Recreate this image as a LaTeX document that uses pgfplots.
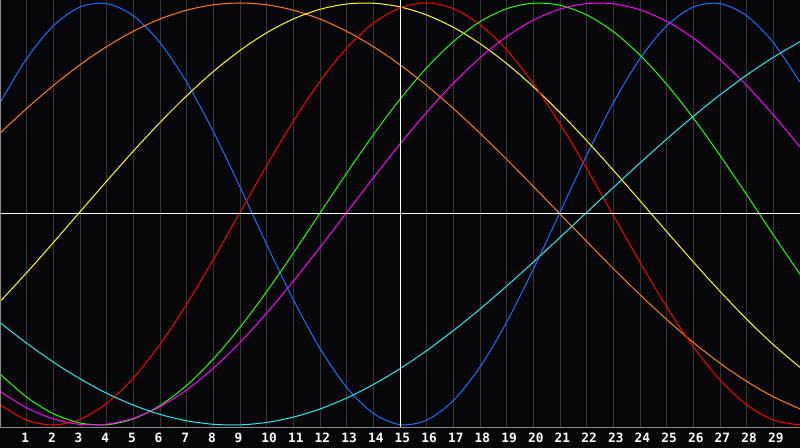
\documentclass[border=0pt]{standalone}
\usepackage{pgfplots}
\pgfplotsset{compat=1.18}
\usepackage{fontspec}
\setmonofont{DejaVu Sans Mono}
\definecolor{bg}{HTML}{060609}
\definecolor{gridgray}{HTML}{36363A}
\definecolor{framegray}{HTML}{8A8A8A}
\definecolor{cblue}{HTML}{1E6EFF}
\definecolor{corange}{HTML}{FF7F1A}
\definecolor{cyellow}{HTML}{FFFF00}
\definecolor{cred}{HTML}{FF0000}
\definecolor{cgreen}{HTML}{22FF00}
\definecolor{cmagenta}{HTML}{FF00FF}
\definecolor{ccyan}{HTML}{22EEEE}
\begin{document}
\begin{tikzpicture}
\fill[bg] (0,0) rectangle (600pt,336pt);
\begin{axis}[
  at={(0pt,15pt)}, anchor=south west,
  width=600pt, height=321pt, scale only axis,
  xmin=0, xmax=30, ymin=-1.0142, ymax=1.0142,
  axis line style={draw=none},
  xtick={1,...,29}, ytick=\empty,
  /pgf/number format/assume math mode=true,
  major tick length=0pt,
  xmajorgrids, grid style={gridgray, line width=0.75pt},
  xticklabel style={anchor=north west, xshift=-7.5pt, yshift=-0.5pt,
    text=white, font=\ttfamily\bfseries\fontsize{9.6}{10}\selectfont},
  every axis plot/.style={line width=0.75pt, smooth, no marks},
  clip=true,
]
% physical 23
\addplot[cblue] coordinates {
(0,0.5266)(1,0.7364)(2,0.8917)(3,0.9807)(4,0.9971)(5,0.9395)(6,0.8122)(7,0.6246)
(8,0.3907)(9,0.1279)(10,-0.1444)(11,-0.4059)(12,-0.6374)(13,-0.8216)(14,-0.9450)
(15,-0.9982)(16,-0.9774)(17,-0.8841)(18,-0.7251)(19,-0.5125)(20,-0.2618)(21,0.0082)
(22,0.2777)(23,0.5266)(24,0.7364)(25,0.8917)(26,0.9807)(27,0.9971)(28,0.9395)
(29,0.8122)(30,0.6246)};
% 48
\addplot[corange] coordinates {
(0,0.3827)(1,0.5)(2,0.6088)(3,0.7071)(4,0.7934)(5,0.8660)(6,0.9239)(7,0.9659)
(8,0.9914)(9,1)(10,0.9914)(11,0.9659)(12,0.9239)(13,0.8660)(14,0.7934)(15,0.7071)
(16,0.6088)(17,0.5)(18,0.3827)(19,0.2588)(20,0.1305)(21,0)(22,-0.1305)(23,-0.2588)
(24,-0.3827)(25,-0.5)(26,-0.6088)(27,-0.7071)(28,-0.7934)(29,-0.8660)(30,-0.9239)};
% 43
\addplot[cyellow] coordinates {
(0,-0.4152)(1,-0.2783)(2,-0.1355)(3,0.0103)(4,0.1557)(5,0.2979)(6,0.4337)(7,0.5602)
(8,0.6749)(9,0.7750)(10,0.8590)(11,0.9243)(12,0.9700)(13,0.9951)(14,0.9989)
(15,0.9815)(16,0.9431)(17,0.8847)(18,0.8073)(19,0.7128)(20,0.6032)(21,0.4805)
(22,0.3477)(23,0.2074)(24,0.0628)(25,-0.0832)(26,-0.2273)(27,-0.3667)(28,-0.4983)
(29,-0.6193)(30,-0.7269)};
% emotional 28
\addplot[cred] coordinates {
(0,-0.9038)(1,-0.9764)(2,-1.0000)(3,-0.9734)(4,-0.8980)(5,-0.7777)(6,-0.6183)
(7,-0.4278)(8,-0.2159)(9,0.0066)(10,0.2290)(11,0.4399)(12,0.6287)(13,0.7860)
(14,0.9038)(15,0.9764)(16,1.0000)(17,0.9734)(18,0.8980)(19,0.7777)(20,0.6183)
(21,0.4278)(22,0.2161)(23,-0.0066)(24,-0.2290)(25,-0.4399)(26,-0.6287)(27,-0.7860)
(28,-0.9038)(29,-0.9764)(30,-1.0000)};
% intellectual 33
\addplot[cgreen] coordinates {
(0,-0.7580)(1,-0.8679)(2,-0.9463)(3,-0.9904)(4,-0.9987)(5,-0.9709)(6,-0.9081)
(7,-0.8124)(8,-0.6873)(9,-0.5374)(10,-0.3681)(11,-0.1855)(12,0.0038)(13,0.1930)
(14,0.3752)(15,0.5439)(16,0.6928)(17,0.8168)(18,0.9112)(19,0.9727)(20,0.9990)
(21,0.9893)(22,0.9437)(23,0.8642)(24,0.7530)(25,0.6151)(26,0.4548)(27,0.2780)
(28,0.0913)(29,-0.0988)(30,-0.2853)};
% 38
\addplot[cmagenta] coordinates {
(0,-0.8408)(1,-0.9184)(2,-0.9710)(3,-0.9971)(4,-0.9960)(5,-0.9678)(6,-0.9132)
(7,-0.8336)(8,-0.7313)(9,-0.6089)(10,-0.4701)(11,-0.3184)(12,-0.1580)(13,0.0066)
(14,0.1712)(15,0.3310)(16,0.4818)(17,0.6195)(18,0.7402)(19,0.8409)(20,0.9185)
(21,0.9710)(22,0.9971)(23,0.9960)(24,0.9677)(25,0.9130)(26,0.8336)(27,0.7312)
(28,0.6089)(29,0.4699)(30,0.3183)};
% 53
\addplot[ccyan] coordinates {
(0,-0.5145)(1,-0.6124)(2,-0.7015)(3,-0.7810)(4,-0.8494)(5,-0.9058)(6,-0.9496)
(7,-0.9800)(8,-0.9967)(9,-0.9993)(10,-0.9880)(11,-0.9627)(12,-0.9241)(13,-0.8723)
(14,-0.8083)(15,-0.7332)(16,-0.6475)(17,-0.5528)(18,-0.4504)(19,-0.3415)(20,-0.2280)
(21,-0.1113)(22,0.0072)(23,0.1253)(24,0.2418)(25,0.3548)(26,0.4630)(27,0.5645)
(28,0.6582)(29,0.7425)(30,0.8166)};
% centre cross
\addplot[white, line width=0.75pt, sharp plot] coordinates {(0,0)(30,0)};
\addplot[white, line width=0.75pt, sharp plot] coordinates {(15,-1.0142)(15,1.0142)};
% frame
\addplot[framegray, line width=0.75pt, sharp plot] coordinates {(30,-1.0142)(0,-1.0142)(0,1.0142)(30,1.0142)};
\end{axis}
\pgfresetboundingbox
\path (0,0) rectangle (600pt,336pt);
\end{tikzpicture}
\end{document}
